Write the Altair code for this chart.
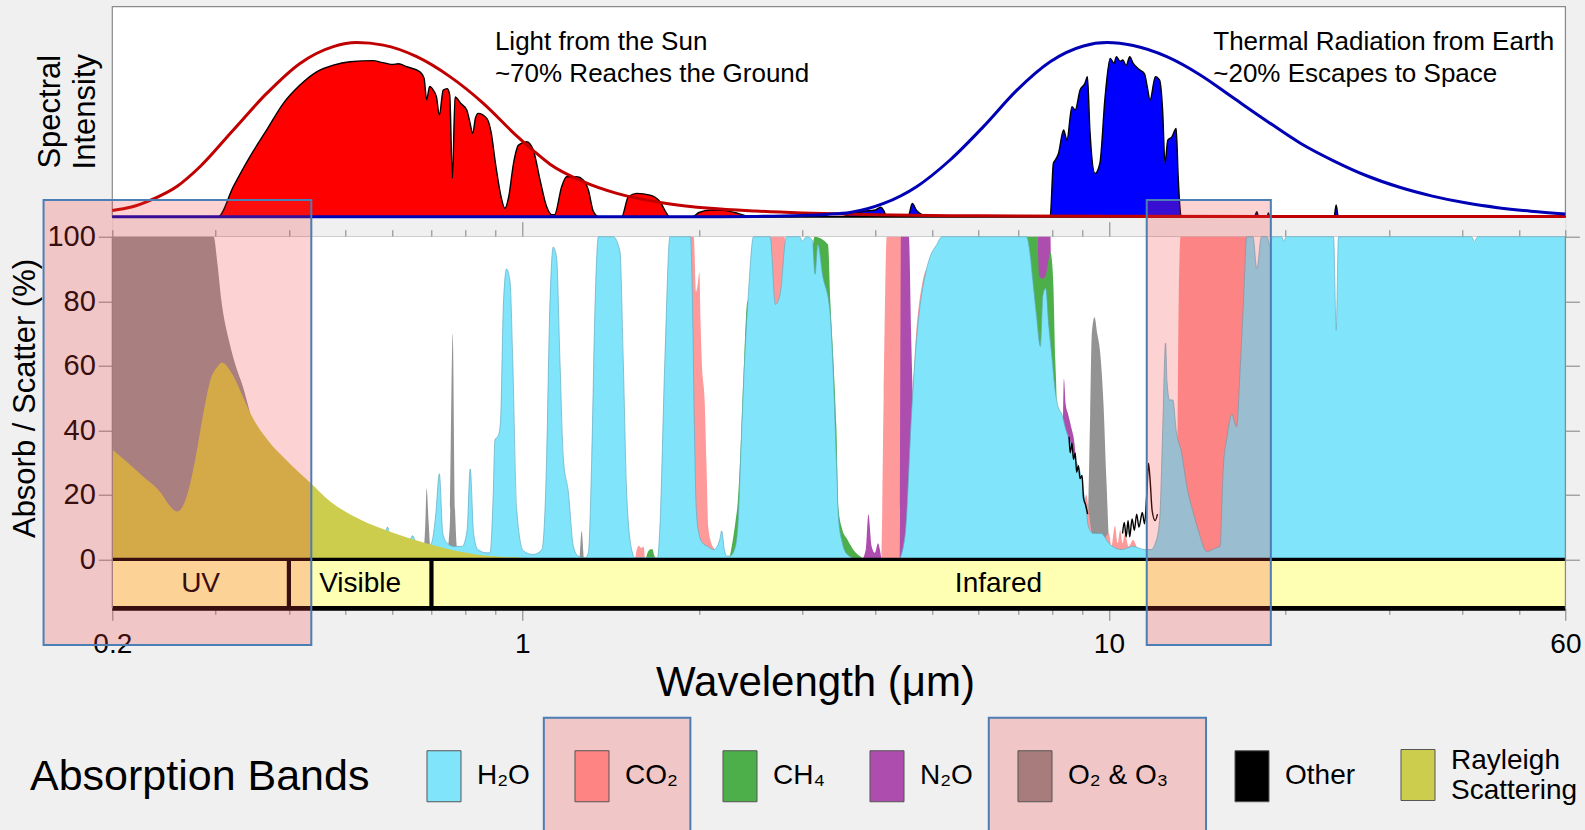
import altair as alt
import pandas as pd
import numpy as np

FONT = "Liberation Sans"

# ---------------- scales / layout (data units) ----------------
x_domain = [0.2, 60]
ABS_DOMAIN = [-15.19, 171.3]      # absorption panel: 0..100 %, band bar below 0
SPEC_DOMAIN = [-186.48, 100]      # spectral panel: relative intensity 0..100
BAND_BOTTOM = -15.19

tick_values = [0.2, 0.3, 0.4, 0.5, 0.6, 0.7, 0.8, 0.9, 1, 2, 3, 4, 5, 6, 7, 8, 9, 10, 20, 30, 40, 50, 60]
bottom_major = [0.2, 1, 10, 60]
top_major = [1, 10]
bottom_minor = [v for v in tick_values if v not in bottom_major]
top_minor = [v for v in tick_values if v not in top_major]
y_ticks = [0, 20, 40, 60, 80, 100]

# ---------------- spectral panel data ----------------
sun_curve_wl = [0.2, 0.2156, 0.233, 0.258, 0.2821, 0.3216, 0.3666, 0.4178, 0.4762, 0.522, 0.5794, 0.6607,
                0.7527, 0.858, 0.978, 1.044, 1.115, 1.27, 1.449, 1.762, 2.09, 2.5, 3.0, 4.0, 6.0, 10, 20, 60]
sun_curve_val = [3, 4.6, 8, 14.5, 23.8, 41.3, 58.7, 73, 81, 82.9, 81.7, 76.2,
                 66.7, 54, 38.5, 31.5, 25, 16.7, 11.1, 6.3, 4.0, 2.7, 1.8, 0.9, 0.4, 0.2, 0.1, 0.05]

earth_curve_wl = [0.2, 2.0, 2.5, 3.0, 3.3, 3.62, 4.13, 4.7, 5.36, 6.11, 6.97, 7.94, 9.05, 9.92, 11.0, 12.55,
                  14.31, 16.31, 18.6, 21.2, 24.2, 27.5, 31.3, 35.6, 40.5, 46, 52.4, 60]
earth_curve_val = [0, 0, 0.15, 0.6, 1.1, 2.0, 6.3, 14.3, 27, 42.9, 60.3, 73.8, 81.3, 82.9, 81.5, 76.2,
                   67.5, 56.5, 45.5, 35, 26.5, 19.5, 14, 9.8, 6.6, 4.3, 2.6, 1.3]

sun_fill_wl = [0.2, 0.303, 0.3216, 0.3433, 0.3666, 0.3914, 0.4178, 0.4461, 0.4762, 0.5084, 0.557, 0.575, 0.587,
               0.60, 0.615, 0.6355, 0.669, 0.68, 0.687, 0.695, 0.705, 0.714, 0.722, 0.733, 0.745, 0.752, 0.76,
               0.768, 0.785, 0.804, 0.814, 0.823, 0.832, 0.841, 0.87, 0.885, 0.9, 0.92, 0.934, 0.948, 0.966,
               0.985, 1.017, 1.044, 1.072, 1.1, 1.122, 1.135, 1.167, 1.19, 1.238, 1.27, 1.296, 1.322, 1.35,
               1.477, 1.516, 1.567, 1.651, 1.717, 1.762, 1.78, 1.95, 2.0, 2.1, 2.2, 2.3, 2.4, 2.5, 60]
sun_fill_val = [0, 0, 14.3, 28.6, 41.3, 54, 62.7, 69, 72.2, 73.8, 74.3, 73.5, 73,
                72.5, 72.8, 71.4, 69, 66, 55.6, 62, 60.3, 57, 48.4, 60.3, 61, 58, 18.3,
                57, 54, 50.8, 45, 39.7, 47, 49.2, 46.8, 40, 25.4, 9.5, 4, 9.5, 25.4,
                34.1, 35.7, 31.7, 17.5, 4.8, 1, 1, 14.3, 19, 19, 17.5, 12.7, 2.4, 0,
                0, 9.5, 11.1, 10.3, 7.1, 1.6, 0, 0, 2, 3.2, 3.0, 2.0, 0.5, 0, 0]

earth_fill_wl = [0.2, 3.5, 3.62, 3.8, 4.0, 4.08, 4.13, 4.18, 4.5, 4.56, 4.62, 4.7, 4.8, 4.93, 7.94, 8.04, 8.1,
                 8.2, 8.37, 8.48, 8.65, 8.76, 8.93, 9.1, 9.19, 9.28, 9.47, 9.65, 9.85, 10.05, 10.2, 10.3,
                 10.45, 10.56, 10.7, 10.85, 11.0, 11.3, 11.5, 11.62, 11.75, 12.0, 12.2, 12.35, 12.46, 12.6,
                 12.8, 13.02, 13.12, 13.2, 13.3, 17.7, 17.87, 18.0, 18.6, 18.7, 18.8, 24.2, 24.4, 24.6, 60]
earth_fill_val = [0, 0, 1, 2.5, 3.2, 4.5, 3, 0, 0, 1, 6.3, 3, 1, 0, 0, 25.4, 27,
                  30, 41.3, 36.5, 52.4, 50.8, 60.3, 63.5, 66.7, 41.3, 20.6, 25.4, 57, 75.4, 73, 76.2,
                  74, 74.6, 72, 76.2, 73, 69.8, 68, 62, 55.6, 66.7, 65, 50, 25.4, 36.5,
                  38, 42, 20, 6.3, 0, 0, 2.4, 0, 0, 1.8, 0, 0, 5.6, 0, 0]

annot_text = ["Light from the Sun", "~70% Reaches the Ground",
              "Thermal Radiation from Earth", "~20% Escapes to Space"]
annot_wl = [0.898, 0.898, 15.06, 15.06]
annot_v = [83.0, 68.0, 83.0, 68.0]

spec_title = ["Spectral", "Intensity"]
spec_title_wl = [0.1575]
spec_title_v = [50.0]

# ---------------- absorption panel data (%) ----------------
h2o_wl = [0.2, 0.56, 0.575, 0.589, 0.600, 0.615, 0.627, 0.638, 0.650, 0.662, 0.680, 0.700, 0.712, 0.722, 0.732,
          0.745, 0.765, 0.790, 0.805, 0.815, 0.826, 0.840, 0.870, 0.881, 0.892, 0.898, 0.910, 0.918, 0.928,
          0.940, 0.953, 0.963, 0.978, 1.004, 1.044, 1.08, 1.10, 1.112, 1.129, 1.144, 1.159, 1.175, 1.198,
          1.222, 1.246, 1.28, 1.296, 1.313, 1.33, 1.348, 1.429, 1.467, 1.486, 1.506, 1.536, 1.556, 1.70,
          1.716, 1.75, 1.785, 1.935, 1.95, 1.965, 1.98, 2.0, 2.03, 2.07, 2.12, 2.17, 2.187, 2.21, 2.23, 2.26,
          2.30, 2.33, 2.36, 2.38, 2.43, 2.478, 2.645, 2.70, 2.75, 2.82, 2.97, 3.0, 3.05, 3.12, 3.155, 3.19,
          3.25, 3.34, 3.39, 3.43, 3.46, 3.51, 3.58, 3.73, 4.377, 4.49, 4.61, 4.67, 4.76, 4.86, 4.95, 5.09,
          5.19, 7.24, 7.32, 7.42, 7.52, 7.64, 7.72, 7.8, 7.9, 8.0, 8.1, 8.2, 8.31, 8.45, 8.6, 8.76, 8.93,
          9.11, 9.23, 9.4, 9.7, 10.0, 10.5, 11.0, 11.5, 11.8, 12.0, 12.2, 12.35, 12.49, 12.56, 12.69, 12.85,
          13.02, 13.3, 13.58, 13.9, 14.2, 14.69, 15.2, 15.47, 15.6, 15.67, 15.9, 16.2, 16.5, 16.75, 16.96,
          17.18, 17.6, 17.87, 18.2, 18.6, 18.83, 19.0, 19.7, 19.87, 20.05, 24.15, 24.4, 24.62, 41.5, 42,
          42.5, 60]
h2o_val = [0, 0, 1, 10, 3, 4, 6.7, 4.5, 7.3, 4, 3, 5, 14, 26.5, 8,
           5, 4, 4, 9, 28, 8, 3, 2, 2, 20, 37, 38.4, 42.6, 78,
           90, 86, 62, 15.6, 2.6, 1.5, 3, 31, 72.7, 96.8, 93.5, 62, 31, 20.8,
           4, 1, 0.5, 2, 31, 78, 100, 100, 95.5, 62, 20.8, 3, 0.5, 0.5,
           10, 62, 100, 100, 80, 40, 15, 8, 5, 4, 3, 6, 8.8, 3, 1, 1,
           3, 10, 35, 52, 83, 100, 100, 79, 82, 100, 100, 98.6, 100, 99, 88.4, 97.6,
           88, 78, 57, 31, 12.5, 5.2, 1.5, 0, 0, 7, 45.7, 62, 78, 88, 93.5, 97.6,
           100, 100, 96, 86, 76, 66, 82, 84, 72, 62, 52, 47, 45, 40, 36, 31, 27,
           17.6, 10, 8, 8, 5, 3, 4, 3, 3, 5, 12, 40, 67, 55, 49.4, 49.4,
           40, 33, 22.5, 15, 9, 2.4, 3.5, 4, 20, 28.7, 38, 45, 41, 60, 80,
           100, 100, 90, 100, 100, 97, 100, 100, 98.5, 100, 100, 71, 100, 100, 98.5,
           100, 100]

co2_wl = [0.2, 1.555, 1.567, 1.58, 1.595, 1.61, 1.62, 1.85, 1.90, 1.96, 1.978, 1.99, 2.004, 2.012, 2.022,
          2.048, 2.06, 2.075, 2.10, 2.13, 2.16, 2.60, 2.64, 2.80, 2.85, 4.09, 4.13, 4.18, 4.43, 4.50, 4.61,
          4.70, 4.80, 4.90, 4.95, 5.0, 5.1, 8.95, 9.05, 9.15, 9.25, 9.35, 9.5, 9.8, 10.0, 10.1, 10.24,
          10.35, 10.45, 10.55, 10.65, 10.8, 11.0, 11.2, 11.5, 11.8, 12.85, 13.05, 13.15, 13.25, 17.2,
          17.5, 18.0, 18.5, 60]
co2_val = [0, 0, 3, 4.2, 3.5, 4, 0, 0, 100, 100, 83, 85, 89, 75, 62,
           46.7, 30, 10, 5, 3, 0, 0, 100, 100, 0, 0, 50, 100, 100, 70, 50,
           72, 85, 90, 90, 80, 0, 0, 15, 20, 14, 8, 4, 6, 8, 4, 10.4,
           5, 9, 5, 8, 4, 6, 3, 1, 0, 0, 20, 80, 100, 100,
           90, 40, 0, 0]

ch4_wl = [0.2, 1.62, 1.635, 1.65, 1.665, 1.68, 1.70, 2.245, 2.28, 2.31, 2.33, 2.35, 2.38, 2.42, 2.46, 2.5,
          2.95, 3.05, 3.15, 3.32, 3.35, 3.39, 3.43, 3.46, 3.51, 3.58, 3.68, 3.80, 3.85, 7.1, 7.2, 7.55,
          7.6, 7.7, 7.8, 7.95, 8.0, 8.04, 8.10, 8.14, 8.2, 60]
ch4_val = [0, 0, 2, 3, 3.2, 1, 0, 0, 5, 12, 18, 30, 55, 80, 70, 0,
           0, 60, 100, 97.6, 80, 62, 41.5, 15.6, 9.3, 6.2, 2.6, 0.5, 0, 0, 100, 100,
           88, 87, 88, 95, 92, 85, 62, 50, 0, 0]

n2o_wl = [0.2, 3.79, 3.85, 3.89, 3.94, 3.99, 4.04, 4.07, 4.1, 4.40, 4.42, 4.56, 4.60, 4.64, 4.70, 4.80,
          7.52, 7.55, 7.95, 7.98, 8.0, 8.3, 8.38, 8.44, 8.52, 8.65, 8.72, 8.8, 8.9, 60]
n2o_val = [0, 0, 3, 14, 4, 2, 5, 3, 0, 0, 100, 100, 70, 45, 20, 0,
           0, 100, 100, 50, 0, 0, 56, 48, 45, 40, 37, 28, 0, 0]

o2o3_wl = [0.2, 0.2977, 0.302, 0.307, 0.316, 0.325, 0.334, 0.344, 0.36, 0.38, 0.40, 0.43, 0.46, 0.675,
           0.683, 0.687, 0.692, 0.70, 0.74, 0.752, 0.761, 0.768, 0.778, 1.25, 1.262, 1.275, 9.1, 9.23,
           9.29, 9.35, 9.45, 9.55, 9.65, 9.79, 9.9, 10.04, 10.15, 60]
o2o3_val = [100, 100, 92, 80, 68, 59.7, 53.5, 45, 33, 20, 10, 3, 0, 0,
            10, 22, 12, 0, 0, 10, 70, 15, 0, 0, 8.8, 0, 0, 20,
            45, 70, 75, 70, 65, 48, 25, 2, 0, 0]

rayleigh_wl = [0.2, 0.226, 0.2423, 0.2487, 0.258, 0.2635, 0.2707, 0.2782, 0.2859, 0.294, 0.3022, 0.3074,
               0.3198, 0.334, 0.344, 0.368, 0.3957, 0.4364, 0.47, 0.524, 0.60, 0.678, 0.773, 0.881, 1.0,
               1.1, 60]
rayleigh_val = [34, 25.6, 20.5, 17.4, 14.8, 16.3, 22.5, 32.9, 45.2, 55.6, 59.7, 61,
                57.6, 50.4, 45.2, 37, 30.8, 23.5, 18, 12.7, 8.3, 5.2, 2.6, 1.0, 0.5,
                0, 0]

other_a_wl = [8.55, 8.59, 8.65, 8.7, 8.76, 8.81, 8.87, 8.93, 9.0, 9.05, 9.12, 9.2]
other_a_val = [38, 33, 36, 31, 33, 27, 29, 25, 26, 19, 17, 14]
other_b_wl = [10.55, 10.62, 10.7, 10.78, 10.85, 10.95, 11.05, 11.15, 11.25, 11.4, 11.5, 11.6, 11.68,
              11.75, 11.85, 11.99, 12.1]
other_b_val = [8, 11.4, 7, 12, 7, 12.5, 9, 14, 10, 14.5, 11, 20, 29.8, 25, 15, 12, 14]

# spectral regions bar
band_names = ["UV", "Visible", "Infared"]
band_start = [0.2, 0.4, 0.7]
band_end = [0.4, 0.7, 60]

# highlight boxes (wavelength / % coordinates)
hl_x0 = [0.1527, 11.6, 1.088, 6.24]
hl_x1 = [0.4368, 18.88, 1.934, 14.64]
hl_y0 = [111.35, 111.35, -49.1, -49.1]
hl_y1 = [-26.53, -26.53, -85, -85]

# legend
legend_labels = ["H₂O", "CO₂", "CH₄", "N₂O", "O₂ & O₃", "Other", "Rayleigh Scattering"]
legend_colors = ["#80e5fb", "#fe8484", "#4daf4a", "#ad4dad", "#a87c7c", "#000000", "#cccc4d"]

# ---------------- build chart ----------------
xs = alt.Scale(type="log", domain=x_domain, nice=False)
ys_abs = alt.Scale(domain=ABS_DOMAIN, nice=False, zero=False)
ys_spec = alt.Scale(domain=SPEC_DOMAIN, nice=False, zero=False)
XN = lambda f: alt.X(f, scale=xs, axis=None)


def sdf(wl, val):
    return pd.DataFrame({"wl": wl, "v": val})


frame_df = pd.DataFrame({"x0": [x_domain[0]], "x1": [x_domain[1]], "y0": [0], "y1": [100]})

# --- top panel ---
top_frame = alt.Chart(frame_df).mark_rect(fill="white", stroke="#8a8a8a", strokeWidth=1.2).encode(
    x=XN("x0:Q"), x2="x1:Q",
    y=alt.Y("y0:Q", scale=ys_spec, axis=None), y2="y1:Q")


def spec_area(wl, val, fill):
    return alt.Chart(sdf(wl, val)).mark_area(fill=fill, stroke="black", strokeWidth=1.4,
                                             interpolate="monotone").encode(
        x=XN("wl:Q"), y=alt.Y("v:Q", scale=ys_spec, axis=None), y2=alt.datum(0))


def spec_line(wl, val, color):
    return alt.Chart(sdf(wl, val)).mark_line(color=color, strokeWidth=3, interpolate="monotone").encode(
        x=XN("wl:Q"), y=alt.Y("v:Q", scale=ys_spec, axis=None))


top_text = alt.Chart(pd.DataFrame({"t": annot_text, "wl": annot_wl, "v": annot_v})).mark_text(
    align="left", baseline="middle", fontSize=26, font=FONT, color="black").encode(
    x=XN("wl:Q"), y=alt.Y("v:Q", scale=ys_spec, axis=None), text="t:N")

spec_title_mark = alt.Chart(pd.DataFrame({"wl": spec_title_wl, "v": spec_title_v})).mark_text(
    text=spec_title, angle=270, align="center", baseline="middle", fontSize=31, lineHeight=35,
    font=FONT, color="black").encode(
    x=XN("wl:Q"), y=alt.Y("v:Q", scale=ys_spec, axis=None))

top_group = alt.layer(
    top_frame,
    spec_area(sun_fill_wl, sun_fill_val, "#ff0000"),
    spec_area(earth_fill_wl, earth_fill_val, "#0000ff"),
    spec_line(sun_curve_wl, sun_curve_val, "#c00000"),
    spec_line(earth_curve_wl, earth_curve_val, "#0000b4"),
    top_text,
    spec_title_mark,
)

# --- bottom panel ---
bg = alt.Chart(frame_df).mark_rect(fill="white").encode(
    x=alt.X("x0:Q", scale=xs, axis=alt.Axis(orient="bottom", values=bottom_minor, labels=False, tickSize=6,
                                             tickColor="#808080", tickWidth=1, domain=False, grid=False,
                                             title=None)),
    x2="x1:Q",
    y=alt.Y("y0:Q", scale=ys_abs, axis=alt.Axis(
        orient="left", values=y_ticks, domain=False, grid=False, tickSize=14, tickColor="#808080",
        tickWidth=1, labelFontSize=29, labelFont=FONT, labelColor="black", labelPadding=3,
        title="Absorb / Scatter (%)", titleFontSize=31, titleFontWeight="normal", titleColor="black",
        titleFont=FONT, titleX=-87, titleY=391.3, titleAngle=270, titleAlign="center",
        titleBaseline="middle")),
    y2="y1:Q")


def abs_area(wl, val, fill, stroke=None):
    kw = dict(fill=fill, interpolate="monotone")
    if stroke:
        kw.update(stroke=stroke, strokeWidth=0.7)
    return alt.Chart(sdf(wl, val)).mark_area(**kw).encode(
        x=XN("wl:Q"), y=alt.Y("v:Q", scale=ys_abs, axis=None), y2=alt.datum(0))


other_df = pd.concat([sdf(other_a_wl, other_a_val).assign(seg="a"),
                      sdf(other_b_wl, other_b_val).assign(seg="b")])
other_line = alt.Chart(other_df).mark_line(color="black", strokeWidth=1.4, interpolate="monotone").encode(
    x=XN("wl:Q"), y=alt.Y("v:Q", scale=ys_abs, axis=None), detail="seg:N")

band_df = pd.DataFrame({"name": band_names, "s": band_start, "e": band_end})
band_df["mid"] = np.sqrt(band_df["s"] * band_df["e"])
band_df["top"] = 0.0
band_df["bot"] = BAND_BOTTOM
band_df["cen"] = BAND_BOTTOM / 2

band_rect = alt.Chart(band_df).mark_rect(fill="#ffffb3").encode(
    x=alt.X("s:Q", scale=xs, axis=alt.Axis(orient="top", offset=-230, values=top_minor, labels=False,
                                            tickSize=7, tickColor="#808080", tickWidth=1, domain=True,
                                            domainColor="#8a8a8a", domainWidth=1.2, grid=False, title=None)),
    x2="e:Q",
    y=alt.Y("top:Q", scale=ys_abs, axis=alt.Axis(orient="right", values=y_ticks, labels=False, domain=False,
                                                  grid=False, tickSize=14, tickColor="#808080", tickWidth=1,
                                                  title=None)),
    y2="bot:Q")

band_text = alt.Chart(band_df).mark_text(fontSize=28, font=FONT, color="black", baseline="middle").encode(
    x=XN("mid:Q"), y=alt.Y("cen:Q", scale=ys_abs, axis=None), text="name:N")

hline_df = pd.DataFrame({"x0": [x_domain[0]], "x1": [x_domain[1]], "top": [0.0], "bot": [BAND_BOTTOM]})
band_top_line = alt.Chart(hline_df).mark_rule(color="black", strokeWidth=3.3).encode(
    x=XN("x0:Q"), x2="x1:Q", y=alt.Y("top:Q", scale=ys_abs, axis=None))
band_bot_line = alt.Chart(hline_df).mark_rule(color="black", strokeWidth=4.7).encode(
    x=XN("x0:Q"), x2="x1:Q", y=alt.Y("bot:Q", scale=ys_abs, axis=None))

div_df = pd.DataFrame({"x": band_start[1:], "top": 0.0, "bot": BAND_BOTTOM})
dividers = alt.Chart(div_df).mark_rule(color="black", strokeWidth=4.2).encode(
    x=alt.X("x:Q", scale=xs, axis=alt.Axis(orient="bottom", values=bottom_major, format="~g", tickSize=12,
                                            tickColor="#808080", tickWidth=1, domain=False, grid=False,
                                            labelFontSize=28, labelFont=FONT, labelColor="black",
                                            labelPadding=10, labelOverlap=False, labelBound=False,
                                            labelFlush=False,
                                            title="Wavelength (μm)", titleFontSize=42,
                                            titleFontWeight="normal", titleColor="black", titleFont=FONT,
                                            titleX=702.7, titleY=73.7, titleAlign="center",
                                            titleBaseline="middle")),
    y=alt.Y("top:Q", scale=ys_abs, axis=None), y2="bot:Q")

edge_df = pd.DataFrame({"x": x_domain, "top": 100.0, "bot": BAND_BOTTOM})
edges = alt.Chart(edge_df).mark_rule(color="#8a8a8a", strokeWidth=1.2).encode(
    x=alt.X("x:Q", scale=xs, axis=alt.Axis(orient="top", offset=-230, values=top_major, labels=False,
                                            tickSize=15, tickColor="#808080", tickWidth=1, domain=False,
                                            grid=False, title=None)),
    y=alt.Y("top:Q", scale=ys_abs, axis=None), y2="bot:Q")

hl_df = pd.DataFrame({"x0": hl_x0, "x1": hl_x1, "y0": hl_y0, "y1": hl_y1})
highlights = alt.Chart(hl_df).mark_rect(fill="#f33d3d", fillOpacity=0.23, stroke="#4a7eb4",
                                        strokeWidth=2).encode(
    x=XN("x0:Q"), x2="x1:Q", y=alt.Y("y0:Q", scale=ys_abs, axis=None), y2="y1:Q")

label_expr = ("datum.label == 'Rayleigh Scattering' ? ['Rayleigh', 'Scattering'] : "
              "datum.label == 'O₂ & O₃' ? 'O₂ & O₃\u00a0\u00a0\u2009\u200b' : datum.label")

legend_layer = alt.Chart(pd.DataFrame({"gas": legend_labels})).mark_point(
    filled=True, size=0, opacity=0).encode(
    color=alt.Color("gas:N", scale=alt.Scale(domain=legend_labels, range=legend_colors),
                    legend=alt.Legend(
                        orient="none", legendX=-82.3, legendY=742.3, direction="horizontal",
                        title="Absorption Bands", titleOrient="left", titleFont=FONT, titleFontSize=43,
                        titleFontWeight="normal", titleColor="black", titlePadding=48, titleLimit=600,
                        titleAnchor="middle", titleBaseline="middle",
                        symbolType="M-0.667,-1H0.667V1H-0.667Z", symbolSize=2601,
                        symbolStrokeColor="#555555", symbolStrokeWidth=1, symbolOpacity=1,
                        labelFont=FONT, labelFontSize=28, labelColor="black", labelOffset=7,
                        labelLimit=400, columnPadding=36,
                        labelBaseline={"expr": "datum.value == 'Rayleigh Scattering' ? 'bottom' : 'middle'"},
                        labelExpr=label_expr)))

bottom_group = alt.layer(
    bg,
    band_rect,
    abs_area(o2o3_wl, o2o3_val, "#939393"),
    abs_area(co2_wl, co2_val, "#ff9a9a"),
    abs_area(n2o_wl, n2o_val, "#ad4dad"),
    abs_area(ch4_wl, ch4_val, "#4daf4a"),
    abs_area(h2o_wl, h2o_val, "#80e5fb", stroke="#62aac2"),
    abs_area(rayleigh_wl, rayleigh_val, "#cccc4d"),
    other_line,
    band_text,
    band_top_line,
    band_bot_line,
    dividers,
    edges,
    highlights,
    legend_layer,
)

chart = alt.layer(top_group, bottom_group).resolve_scale(y="independent").properties(
    width=1453.1, height=601.6,
    autosize=alt.AutoSizeParams(type="none"),
    padding={"left": 112.3, "top": 6.7, "right": 19.6, "bottom": 221.7},
).configure_view(strokeWidth=0).configure(background="#f0f0f0", font=FONT)

chart.save("out.html", embed_options={"renderer": "svg", "actions": False})
